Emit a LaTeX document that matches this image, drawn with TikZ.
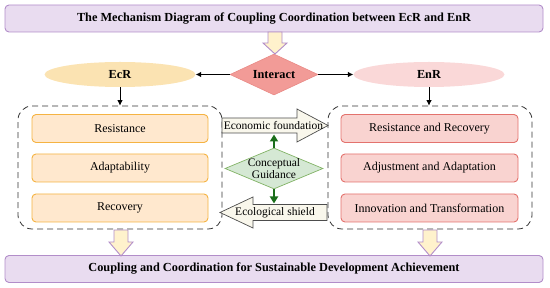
\documentclass[tikz,border=0pt]{standalone}
\usepackage{fontspec}
\setmainfont{Liberation Serif}
\usetikzlibrary{shapes.geometric,arrows.meta}
\definecolor{purfill}{HTML}{E9DCF0}
\definecolor{purdraw}{HTML}{B28DC9}
\definecolor{yelfill}{HTML}{FFF2CC}
\definecolor{ecrfill}{HTML}{FBE3B2}
\definecolor{enrfill}{HTML}{FAD8D8}
\definecolor{obfill}{HTML}{FFE8CE}
\definecolor{obdraw}{HTML}{F5B342}
\definecolor{rbfill}{HTML}{F9D3D0}
\definecolor{rbdraw}{HTML}{E3726D}
\definecolor{intfill}{HTML}{F29B97}
\definecolor{intdraw}{HTML}{E98A86}
\definecolor{gfill}{HTML}{D5E8D4}
\definecolor{gdraw}{HTML}{82B366}
\definecolor{gline}{HTML}{1B6E1B}
\definecolor{beige}{HTML}{F9F7EC}
\definecolor{bdraw}{HTML}{4D4D4D}
\begin{document}
\begin{tikzpicture}[x=1pt,y=-1pt,
  boldfont/.style={font=\fontsize{12.3}{14}\selectfont\bfseries},
  regfont/.style={font=\fontsize{12}{14}\selectfont},
  smallfont/.style={font=\fontsize{11.5}{12.5}\selectfont},
  bandbox/.style={draw=purdraw, fill=purfill, line width=0.9pt, rounded corners=4pt,
    minimum width=538pt, minimum height=27pt, inner sep=0pt, boldfont},
  oval/.style={ellipse, inner sep=0pt, minimum width=151pt, minimum height=25pt, boldfont},
  dashbox/.style={draw=black!80, dash pattern=on 6pt off 4pt, line width=0.8pt,
    rounded corners=14pt, minimum width=204pt, minimum height=123pt, inner sep=0pt},
  obox/.style={draw=obdraw, fill=obfill, line width=0.9pt, rounded corners=4pt,
    minimum width=176pt, minimum height=28pt, inner sep=0pt, regfont},
  rbox/.style={draw=rbdraw, fill=rbfill, line width=0.9pt, rounded corners=4pt,
    minimum width=177pt, minimum height=28pt, inner sep=0pt, regfont},
  blackarrow/.style={line width=0.8pt, -{Latex[length=5.5pt,width=5.5pt]}},
  garrow/.style={draw=gline, line width=2pt, -{Triangle[length=7pt,width=8pt]}},
  yarrow/.style={draw=purdraw, fill=yelfill, line width=0.9pt},
  barrow/.style={draw=bdraw, fill=beige, line width=0.7pt}
]
\useasboundingbox (0,0) rectangle (550,288);

% title and bottom bands
\node[bandbox] (title) at (274,18.5) {The Mechanism Diagram of Coupling Coordination between EcR and EnR};
\node[bandbox] (goal) at (274,269) {Coupling and Coordination for Sustainable Development Achievement};

% interact diamond
\node[diamond, aspect=2, inner sep=0pt, minimum width=88pt, minimum height=41pt,
  fill=intfill, draw=intdraw, line width=0.6pt, boldfont] (int) at (274,74.5) {Interact};

% ellipses
\node[oval, fill=ecrfill] (ecr) at (120,74.5) {EcR};
\node[oval, fill=enrfill] (enr) at (429,74.5) {EnR};

% dashed groups
\node[dashbox] (lgrp) at (120,167.5) {};
\node[dashbox] (rgrp) at (430,167.5) {};

% inner boxes
\node[obox] (res) at (120,128.5) {Resistance};
\node[obox] (ada) at (120,168) {Adaptability};
\node[obox] (rec) at (120,208) {Recovery};
\node[rbox] (rr) at (429.5,128.5) {Resistance and Recovery};
\node[rbox] (aa) at (429.5,168) {Adjustment and Adaptation};
\node[rbox] (it) at (429.5,208) {Innovation and Transformation};

% connectors
\draw[blackarrow] (int.west) -- (ecr.east);
\draw[blackarrow] (int.east) -- (enr.west);
\draw[blackarrow] (ecr.south) -- (lgrp.north);
\draw[blackarrow] (enr.south) -- (enr.south |- rgrp.north);

% yellow block arrows
\draw[yarrow] (268,32) -- (268,43) -- (263,43) -- (275,54) -- (287,43) -- (282,43) -- (282,32) -- cycle;
\draw[yarrow] (114,230) -- (114,242) -- (109,242) -- (121,256) -- (133,242) -- (128,242) -- (128,230) -- cycle;
\draw[yarrow] (423,230) -- (423,242) -- (418,242) -- (430,256) -- (442,242) -- (437,242) -- (437,230) -- cycle;

% middle block arrows
\draw[barrow] (222,118) -- (297,118) -- (297,109) -- (328,125.5) -- (297,142) -- (297,133) -- (222,133) -- cycle;
\draw[barrow] (327,204.5) -- (253,204.5) -- (253,197) -- (220,212.5) -- (253,228) -- (253,220.5) -- (327,220.5) -- cycle;
\node[smallfont, inner sep=0pt] (econ) at (273.5,125.5) {Economic foundation};
\node[smallfont, inner sep=0pt] (eco) at (275,212.5) {Ecological shield};

% conceptual guidance
\node[diamond, aspect=2.4, inner sep=0pt, minimum width=98pt, minimum height=41pt,
  fill=gfill, draw=gdraw, line width=0.7pt,
  label={[smallfont, align=center, inner sep=0pt]center:Conceptual\\Guidance}] (cg) at (274,168.5) {};
\coordinate (gtop) at (274,134.5);
\coordinate (gbot) at (274,203.5);
\draw[garrow] (cg.north) -- (gtop);
\draw[garrow] (cg.south) -- (gbot);
\end{tikzpicture}
\end{document}
